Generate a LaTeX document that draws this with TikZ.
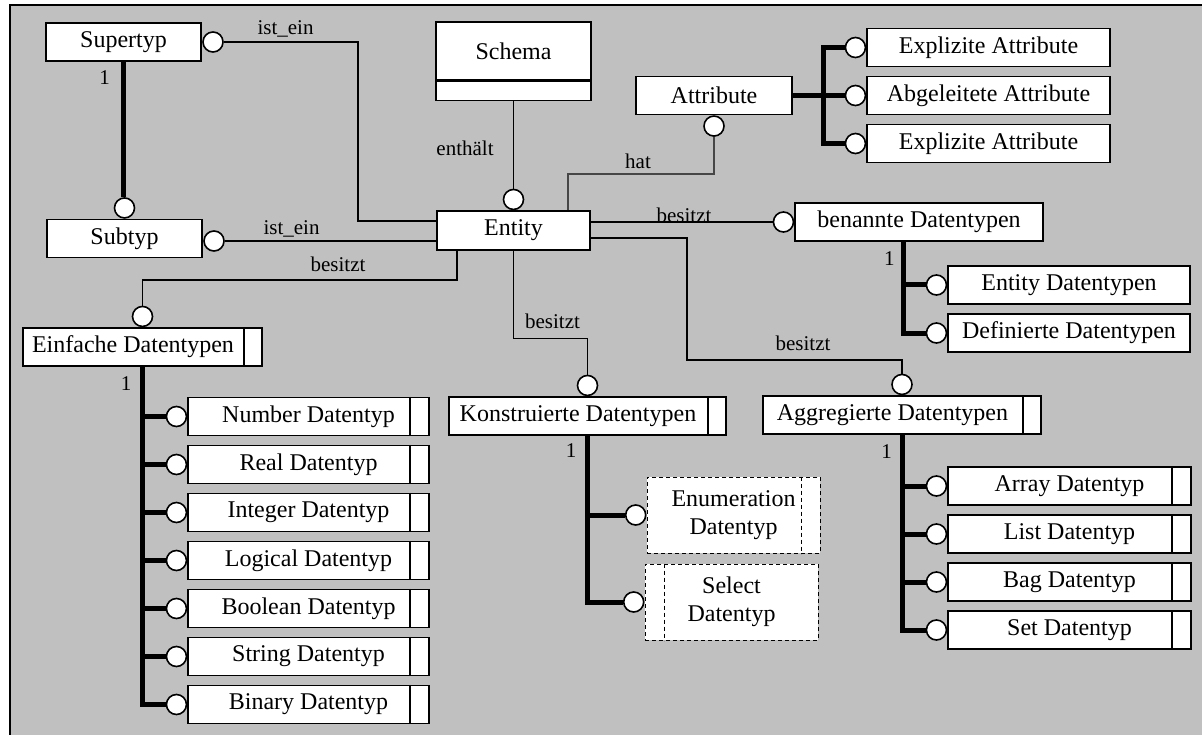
\documentclass[tikz,border=0pt]{standalone}
\usepackage{fontspec}
\setmainfont{Liberation Serif}
\definecolor{panel}{RGB}{192,192,192}
\definecolor{hatgray}{RGB}{70,70,70}
\begin{document}
\begin{tikzpicture}[x=1pt,y=-1pt,
  box/.style={draw, fill=white, line width=1.5pt, inner sep=0pt, minimum height=38pt,
              font=\fontsize{24}{28}\selectfont},
  dbox/.style={box, dash pattern=on 4pt off 3pt, line width=1pt, align=center},
  ring/.style={circle, draw, fill=white, line width=1.6pt, minimum size=20pt, inner sep=0pt},
  conn/.style={line width=1.3pt},
  hatline/.style={line width=1.2pt, draw=hatgray},
  thk/.style={line width=5pt},
  divider/.style={line width=1.5pt},
  ddivider/.style={line width=1pt, dash pattern=on 4pt off 3pt},
  lbl/.style={inner sep=0pt, font=\fontsize{21}{24}\selectfont, anchor=base},
]
\useasboundingbox (0,0) rectangle (1202,735);
% panel
\fill[panel] (10,5) rectangle (1202,735);
\draw[line width=1.6pt] (10,735) -- (10,5) -- (1202,5);

% ---------- boxes ----------
\node[box, minimum width=155pt] (sup) at (123.5,42) {Supertyp};
\node[box, minimum width=155pt] (sub) at (124.5,238.5) {Subtyp};
\node[box, minimum width=155pt, minimum height=58pt] (schema) at (513.5,51) {Schema};
\node[box, minimum width=155pt, minimum height=19pt, anchor=north] (schemaB) at (schema.south) {};
\node[box, minimum width=156pt] (attr) at (714,95.5) {Attribute};
\node[box, minimum width=153pt, minimum height=39pt] (ent) at (513.5,230.5) {Entity};

\node[box, minimum width=243pt] (ex1) at (988.5,47.5) {Explizite Attribute};
\node[box, minimum width=243pt] (abg) at (988.5,95.5) {Abgeleitete Attribute};
\node[box, minimum width=243pt] (ex2) at (988.5,143.5) {Explizite Attribute};

\node[box, minimum width=248pt] (ben) at (919,222) {benannte Datentypen};
\node[box, minimum width=242pt] (edt) at (1069,285) {Entity Datentypen};
\node[box, minimum width=242pt] (ddt) at (1069,333) {Definierte Datentypen};

% boxes with a narrow side compartment: the kern keeps the name centred in the wide part
\node[box, minimum width=239pt] (einf) at (142.5,347) {Einfache Datentypen\kern19pt};
\draw[divider] ([xshift=-19pt]einf.north east) -- ([xshift=-19pt]einf.south east);
\foreach \n/\t/\y in {num/Number/416.5, real/Real/464.5, int/Integer/512.5,
                      logi/Logical/560.5, bool/Boolean/608.5, str/String/656.5, bin/Binary/704.5}{
  \node[box, minimum width=241pt] (\n) at (308.5,\y) {\t{} Datentyp};
  \draw[divider] ([xshift=-20pt]\n.north east) -- ([xshift=-20pt]\n.south east);
  \node[ring, anchor=east] (r\n) at (\n.west) {};
}

\node[box, minimum width=277pt] (kon) at (587.5,416) {Konstruierte Datentypen\kern19pt};
\draw[divider] ([xshift=-19pt]kon.north east) -- ([xshift=-19pt]kon.south east);
\node[dbox, minimum width=173pt, minimum height=76pt] (enum) at (733.5,515) {Enumeration\\Datentyp};
\draw[ddivider] ([xshift=-19pt]enum.north east) -- ([xshift=-19pt]enum.south east);
\node[dbox, minimum width=173pt, minimum height=76pt] (sel) at (731.5,602) {Select\\Datentyp};
\draw[ddivider] ([xshift=20pt]sel.north west) -- ([xshift=20pt]sel.south west);

\node[box, minimum width=278pt] (agg) at (902,415) {Aggregierte Datentypen\kern19pt};
\draw[divider] ([xshift=-19pt]agg.north east) -- ([xshift=-19pt]agg.south east);
\foreach \n/\t/\y in {arr/Array/486, lst/List/534, bag/Bag/582, set/Set/630}{
  \node[box, minimum width=243pt] (\n) at (1069.5,\y) {\t{} Datentyp};
  \draw[divider] ([xshift=-20pt]\n.north east) -- ([xshift=-20pt]\n.south east);
  \node[ring, anchor=east] (r\n) at (\n.west) {};
}

% ---------- rings ----------
\node[ring] (rSup) at (213,42) {};
\node[ring] (rSub) at (214,241) {};
\node[ring, anchor=south] (rSubT) at (sub.north) {};
\node[ring, anchor=south] (rEnt) at (ent.north) {};
\node[ring, anchor=north] (rAttr) at (attr.south) {};
\node[ring, anchor=east] (rE1) at (ex1.west) {};
\node[ring, anchor=east] (rE2) at (abg.west) {};
\node[ring, anchor=east] (rE3) at (ex2.west) {};
\node[ring, anchor=east] (rBen) at (ben.west) {};
\node[ring, anchor=east] (rEdt) at (edt.west) {};
\node[ring, anchor=east] (rDdt) at (ddt.west) {};
\node[ring, anchor=south] (rEinf) at (einf.north) {};
\node[ring, anchor=south] (rKon) at (kon.north) {};
\node[ring, anchor=east] (rEnum) at (enum.west) {};
\node[ring, anchor=east] (rSel) at (sel.west) {};
\node[ring, anchor=south] (rAgg) at (agg.north) {};

% ---------- thick hierarchy lines ----------
\draw[thk] (sup.south) -- (sup.south |- rSubT.north);

\coordinate (ax) at (823,0);
\draw[thk] (attr.east) -- (rE2.west);
\draw[thk] (rE1.west) -| (ax |- rE3) -- (rE3.west);

\coordinate (bx) at (903.5,0);
\draw[thk] (ben.south -| bx) |- (rDdt.west);
\draw[thk] (bx |- rEdt) -- (rEdt.west);

\draw[thk] (einf.south) |- (rbin.west);
\foreach \n in {num,real,int,logi,bool,str}
  \draw[thk] (einf.south |- r\n) -- (r\n.west);

\draw[thk] (kon.south) |- (rSel.west);
\draw[thk] (kon.south |- rEnum) -- (rEnum.west);

\draw[thk] (agg.south) |- (rset.west);
\foreach \n in {arr,lst,bag}
  \draw[thk] (agg.south |- r\n) -- (r\n.west);

% ---------- thin relationship lines ----------
\coordinate (j1) at (358,221);
\draw[conn] (rSup.east) -| (j1) -- (j1 -| ent.west);
\draw[conn] (rSub.east) -- (rSub.east -| ent.west);
\draw[conn] (schemaB.south) -- (rEnt.north);
\coordinate (j2) at (457,280);
\draw[conn] (j2 |- ent.south) -- (j2) -| (rEinf.north);
\coordinate (j3) at (513.5,338.5);
\draw[conn] (ent.south) -- (j3) -| (rKon.north);
\coordinate (j4) at (687,238);
\coordinate (j5) at (687,360);
\draw[conn] (j4 -| ent.east) -- (j4) -- (j5) -| (rAgg.north);
\draw[conn] (ent.east |- rBen) -- (rBen.west);
\coordinate (j6) at (568,174);
\draw[hatline] (j6 |- ent.north) -- (j6) -| (rAttr.south);

% ---------- labels ----------
\node[lbl] (l1) at (285.5,34.5) {ist\_ein};
\node[lbl] (l2) at (291.5,234.3) {ist\_ein};
\node[lbl] (l3) at (338,272) {besitzt};
\node[lbl] (l4) at (465,155.7) {enthält};
\node[lbl] (l5) at (638,168.3) {hat};
\node[lbl] (l6) at (684,222.5) {besitzt};
\node[lbl] (l7) at (552.5,328) {besitzt};
\node[lbl] (l8) at (803,350) {besitzt};
\node[lbl] (m1) at (104.5,85) {1};
\node[lbl] (m2) at (126,390) {1};
\node[lbl] (m3) at (571,457) {1};
\node[lbl] (m4) at (889.3,265.7) {1};
\node[lbl] (m5) at (886.7,458) {1};
\end{tikzpicture}
\end{document}
